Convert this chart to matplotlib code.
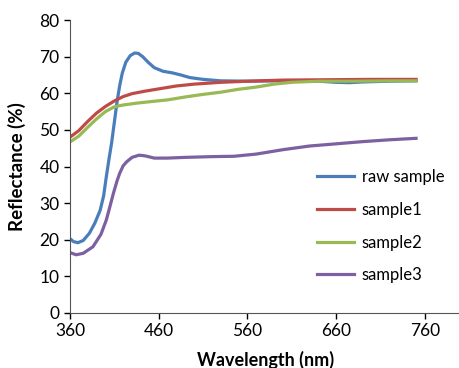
import numpy as np
import matplotlib
matplotlib.use('Agg')
import matplotlib.pyplot as plt

plt.rcParams['font.family'] = ['Lato', 'DejaVu Sans']

# wavelength (nm) / reflectance (%)
raw_wl = [360, 364, 369, 375, 382, 388, 394, 398, 401, 404, 407, 410, 413, 416, 419, 423, 428, 433, 437, 442, 448, 455, 465, 475, 485, 495, 510, 530, 560, 600, 640, 660, 675, 690, 720, 750]
raw_r = [20.3, 19.5, 19.2, 19.8, 21.8, 24.5, 28, 32, 37.2, 42, 46.5, 52, 57.5, 62, 65.5, 68.5, 70.3, 71, 70.9, 70, 68.5, 67, 66, 65.6, 65, 64.3, 63.8, 63.4, 63.3, 63.4, 63.3, 63.0, 62.9, 63.1, 63.3, 63.4]

s1_wl = [360, 370, 380, 390, 400, 410, 420, 430, 445, 460, 480, 500, 530, 560, 600, 650, 700, 750]
s1_r = [48, 49.8, 52.3, 54.6, 56.4, 57.9, 59.1, 59.9, 60.6, 61.2, 62.0, 62.5, 63.0, 63.3, 63.6, 63.7, 63.8, 63.8]

s2_wl = [360, 370, 380, 390, 400, 410, 420, 435, 450, 470, 490, 510, 530, 550, 570, 590, 610, 640, 680, 720, 750]
s2_r = [46.7, 48.3, 50.7, 53, 55, 56.3, 56.8, 57.3, 57.7, 58.2, 59.0, 59.7, 60.3, 61.1, 61.7, 62.5, 63.0, 63.3, 63.3, 63.4, 63.4]

s3_wl = [360, 367, 375, 386, 395, 401, 405, 409, 413, 416, 420, 424, 430, 438, 445, 455, 470, 490, 520, 545, 570, 600, 630, 660, 690, 720, 750]
s3_r = [16.5, 15.9, 16.3, 18.1, 21.5, 25.4, 29, 32.7, 36, 38.1, 40.2, 41.3, 42.5, 43.1, 42.9, 42.3, 42.3, 42.5, 42.7, 42.8, 43.4, 44.6, 45.6, 46.2, 46.8, 47.3, 47.7]

xticks = [360, 460, 560, 660, 760]
yticks = [0, 10, 20, 30, 40, 50, 60, 70, 80]

fig = plt.figure(figsize=(4.6, 3.68), dpi=100)
ax = fig.add_axes([0.152, 0.1495, 0.9647, 0.796])

ax.plot(raw_wl, raw_r, color='#4a7ebb', lw=2.3, label='raw sample')
ax.plot(s1_wl, s1_r, color='#be4b48', lw=2.3, label='sample1')
ax.plot(s2_wl, s2_r, color='#98b954', lw=2.3, label='sample2')
ax.plot(s3_wl, s3_r, color='#7d60a0', lw=2.3, label='sample3')

ax.set_xlim(360, 860)
ax.set_ylim(0, 80)
ax.set_xticks(xticks)
ax.set_yticks(yticks)
ax.tick_params(direction='out', length=4, width=1, labelsize=12.5, colors='black')
ax.spines['top'].set_visible(False)
ax.spines['right'].set_visible(False)
ax.spines['left'].set_color('#555555')
ax.spines['bottom'].set_color('#555555')

ax.set_ylabel('Reflectance (%)', fontsize=13.5, fontweight='bold')
ax.yaxis.set_label_coords(-0.098, 0.5)
ax.set_xlabel('Wavelength (nm)', fontsize=13, fontweight='bold')
ax.xaxis.set_label_coords(0.44, -0.128)

fig.legend(loc='upper left', bbox_to_anchor=(0.689, 0.54), frameon=False, fontsize=12,
           handlelength=2.25, handletextpad=0.45, labelspacing=1.0, borderpad=0, borderaxespad=0)

fig.savefig('out.png', dpi=100)
